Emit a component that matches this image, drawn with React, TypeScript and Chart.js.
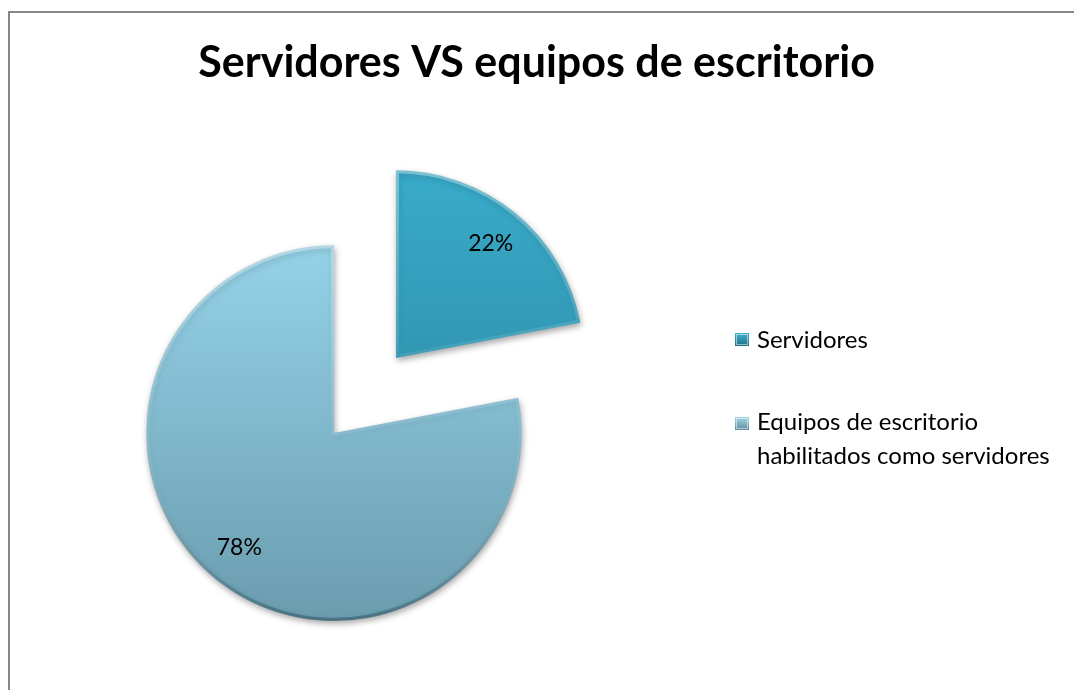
import React, { useEffect, useRef } from 'react';
import { Chart, registerables } from 'chart.js';

Chart.register(...registerables);

// ---- data ----
const titleText = 'Servidores VS equipos de escritorio';
const categories = ['Servidores', 'Equipos de escritorio habilitados como servidores'];
const legendLines = [['Servidores'], ['Equipos de escritorio', 'habilitados como servidores']];
const values = [22, 78];

// ---- layout / style ----
const W = 1064;
const H = 677;
const RADIUS = 188;
const EXPLODE = 48.7;
const PIE_CX = 355;
const PIE_CY = 382.5;
const FONT = 'Lato, "Open Sans", sans-serif';
const sliceColors = [
  ['#38abca', '#2a849c'],
  ['#95d2e8', '#6a9cae'],
];
const boxColors = [
  ['#45b4d2', '#1f6f86'],
  ['#a6d6e6', '#5d8e9f'],
];

const total = values.reduce((a, b) => a + b, 0);
function midAngle(i: number) {
  let before = 0;
  for (let k = 0; k < i; k++) before += values[k];
  return -Math.PI / 2 + ((before + values[i] / 2) / total) * Math.PI * 2;
}

function sliceGradient(chart: any, i: number, stops: string[]) {
  const area = chart.chartArea;
  if (!area) return stops[0];
  const cy = (area.top + area.bottom) / 2 + Math.sin(midAngle(i)) * EXPLODE;
  const g = chart.ctx.createLinearGradient(0, cy - RADIUS, 0, cy + RADIUS);
  g.addColorStop(0, stops[0]);
  g.addColorStop(1, stops[1]);
  return g;
}

function borderGradient(chart: any, i: number) {
  const area = chart.chartArea;
  if (!area) return 'rgba(0,0,0,0.2)';
  const cy = (area.top + area.bottom) / 2 + Math.sin(midAngle(i)) * EXPLODE;
  const g = chart.ctx.createLinearGradient(0, cy - RADIUS, 0, cy + RADIUS);
  g.addColorStop(0, 'rgba(255,255,255,0.35)');
  g.addColorStop(0.5, 'rgba(255,255,255,0.08)');
  g.addColorStop(1, 'rgba(20,60,75,0.4)');
  return g;
}

const explodePlugin = {
  id: 'explode',
  afterDatasetUpdate(chart: any, args: any) {
    const meta = chart.getDatasetMeta(args.index);
    meta.data.forEach((arc: any) => {
      const mid = (arc.startAngle + arc.endAngle) / 2;
      arc.x += Math.cos(mid) * EXPLODE;
      arc.y += Math.sin(mid) * EXPLODE;
    });
  },
  beforeDatasetsDraw(chart: any) {
    const ctx = chart.ctx;
    ctx.save();
    ctx.shadowColor = 'rgba(0,0,0,0.35)';
    ctx.shadowBlur = 6;
    ctx.shadowOffsetX = 1;
    ctx.shadowOffsetY = 3;
  },
  afterDatasetsDraw(chart: any) {
    const ctx = chart.ctx;
    ctx.restore();
    const meta = chart.getDatasetMeta(0);
    ctx.save();
    ctx.fillStyle = '#000';
    ctx.font = `23px ${FONT}`;
    ctx.textAlign = 'center';
    ctx.textBaseline = 'middle';
    meta.data.forEach((arc: any, i: number) => {
      const mid = (arc.startAngle + arc.endAngle) / 2;
      const r = arc.outerRadius * 0.79;
      const pct = Math.round((values[i] / total) * 100) + '%';
      ctx.fillText(pct, arc.x + Math.cos(mid) * r, arc.y + Math.sin(mid) * r);
    });
    ctx.restore();
  },
};

const decorPlugin = {
  id: 'decor',
  afterDraw(chart: any) {
    const ctx = chart.ctx;
    ctx.save();
    // title
    ctx.fillStyle = '#000';
    ctx.font = `bold 43px ${FONT}`;
    ctx.textAlign = 'center';
    ctx.textBaseline = 'alphabetic';
    ctx.fillText(titleText, 526.5, 64);
    // legend
    const boxX = 725;
    const boxTops = [320, 404];
    const baselines = [[335], [417, 451]];
    ctx.font = `24px ${FONT}`;
    ctx.textAlign = 'left';
    legendLines.forEach((lines, i) => {
      const top = boxTops[i];
      const g = ctx.createLinearGradient(0, top, 0, top + 13);
      g.addColorStop(0, boxColors[i][0]);
      g.addColorStop(1, boxColors[i][1]);
      ctx.fillStyle = g;
      ctx.fillRect(boxX, top, 14, 13);
      ctx.strokeStyle = 'rgba(255,255,255,0.5)';
      ctx.lineWidth = 1;
      ctx.strokeRect(boxX + 1.5, top + 1.5, 11, 10);
      ctx.fillStyle = '#000';
      lines.forEach((line, j) => ctx.fillText(line, boxX + 22, baselines[i][j]));
    });
    ctx.restore();
  },
};

export default function App() {
  const canvasRef = useRef<HTMLCanvasElement | null>(null);

  useEffect(() => {
    if (!canvasRef.current) return;
    const chart = new Chart(canvasRef.current, {
      type: 'pie',
      data: {
        labels: categories,
        datasets: [
          {
            data: values,
            backgroundColor: (c: any) => sliceGradient(c.chart, c.dataIndex, sliceColors[c.dataIndex]),
            borderColor: (c: any) => borderGradient(c.chart, c.dataIndex),
            borderWidth: 3,
            borderAlign: 'inner',
          },
        ],
      },
      options: {
        animation: false,
        responsive: false,
        radius: RADIUS,
        layout: {
          padding: {
            left: PIE_CX - 300,
            right: W - (PIE_CX + 300),
            top: PIE_CY - 250,
            bottom: H - (PIE_CY + 250),
          },
        },
        plugins: {
          legend: { display: false },
          title: { display: false },
          tooltip: { enabled: false },
        },
      } as any,
      plugins: [explodePlugin, decorPlugin],
    });
    return () => chart.destroy();
  }, []);

  return (
    <div
      style={{
        position: 'fixed',
        left: 8,
        top: 11,
        width: W,
        height: H,
        borderTop: '2px solid #878787',
        borderLeft: '2px solid #878787',
        background: '#fff',
      }}
    >
      <canvas ref={canvasRef} width={W} height={H} style={{ display: 'block', width: W, height: H }} />
    </div>
  );
}
